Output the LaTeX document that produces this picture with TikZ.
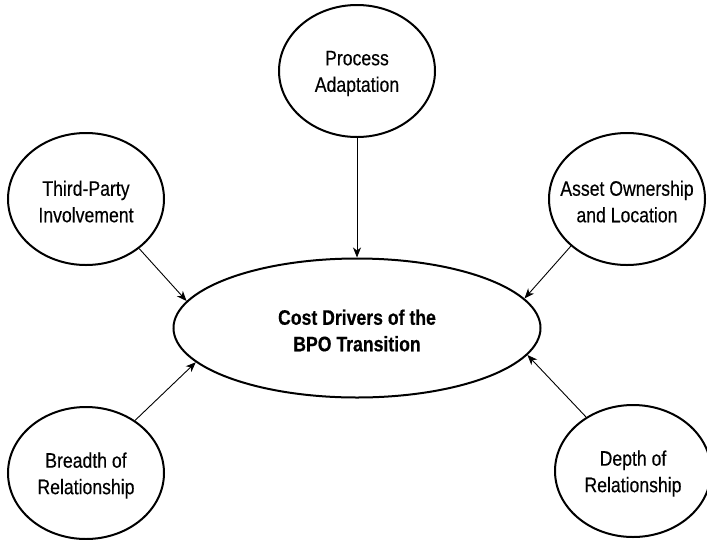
\documentclass[tikz,border=0pt]{standalone}
\usepackage{fontspec}
\setmainfont{Liberation Sans}[FakeStretch=0.84,
  UprightFeatures={FakeBold=0.3}, BoldFeatures={FakeBold=0.5}]
\usetikzlibrary{arrows.meta,shapes.geometric}

\tikzset{
  driver/.style={draw, line width=2pt, ellipse, inner sep=0pt,
    minimum width=156pt, minimum height=132pt},
  hub/.style={draw, line width=2pt, ellipse, inner sep=0pt,
    minimum width=367pt, minimum height=139pt},
  caption/.style={align=center, inner sep=0pt, yshift=-2.5pt,
    font=\fontsize{21}{26.5}\selectfont},
  boldcaption/.style={caption, font=\fontsize{21}{26.5}\selectfont\bfseries},
  feed/.style={line width=0.9pt,
    -{Stealth[length=10pt, width=8pt, inset=3pt]}}
}

\begin{document}
\begin{tikzpicture}[x=1pt, y=-1pt]
  \useasboundingbox (0,0) rectangle (707,539);

  % central topic
  \node[hub, label={[boldcaption]center:Cost Drivers of the\\BPO Transition}]
    (hubnode) at (357,328) {};

  % the five cost drivers around it
  \node[driver, label={[caption]center:Process\\Adaptation}]
    (proc) at (357,71) {};
  \node[driver, label={[caption]center:Third-Party\\Involvement}]
    (third) at (86,199) {};
  \node[driver, label={[caption]center:Asset Ownership\\and Location}]
    (asset) at (627,199) {};
  \node[driver, label={[caption]center:Breadth of\\Relationship}]
    (breadth) at (86,473) {};
  \node[driver, label={[caption]center:Depth of\\Relationship}]
    (depth) at (633,471) {};

  % connectors into the central topic
  \draw[feed] (proc.-90)     -- (hubnode.90);
  \draw[feed] (third.-43)    -- (hubnode.171);
  \draw[feed] (asset.220)    -- (hubnode.10.7);
  \draw[feed] (breadth.47.8) -- (hubnode.192);
  \draw[feed] (depth.131.6)  -- (hubnode.-9.6);
\end{tikzpicture}
\end{document}
